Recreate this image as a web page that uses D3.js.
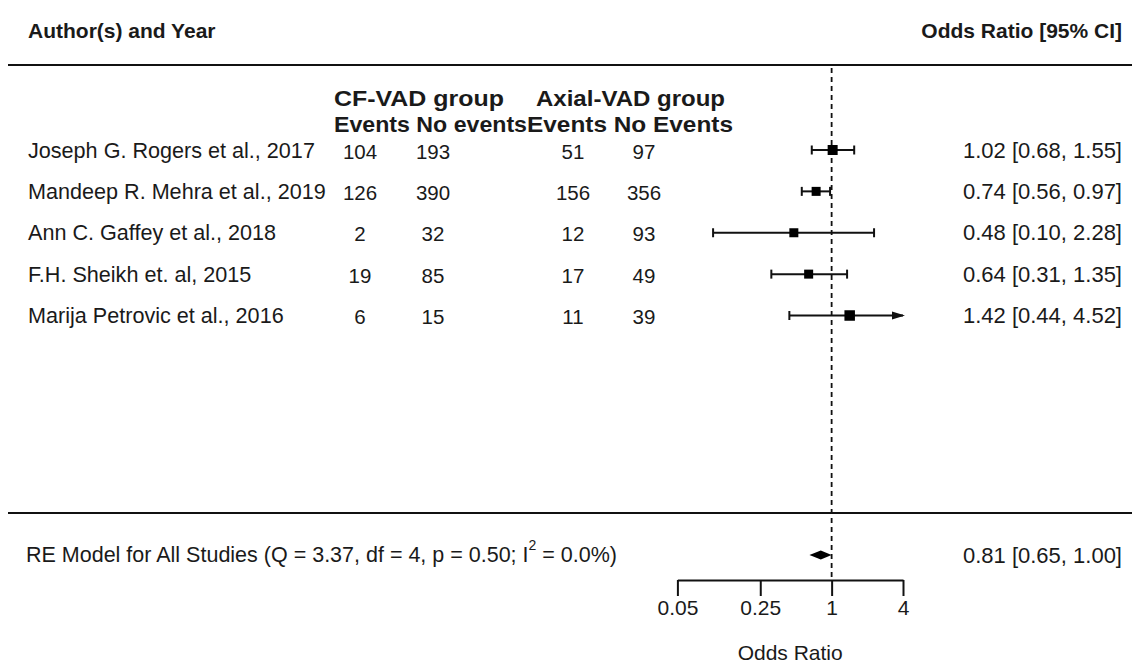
<!DOCTYPE html>
<html>
<head>
<meta charset="utf-8">
<script src="https://cdn.jsdelivr.net/npm/d3@7"></script>
<style>
  html, body { margin: 0; padding: 0; background: #fff; }
  svg text { font-family: "Liberation Sans", Arial, sans-serif; fill: #1a1a1a; }
</style>
</head>
<body>
<svg id="chart" width="1132" height="665"></svg>
<script>
// Study-level data (odds ratios with 95% CI)
const studies = [
  "Joseph G. Rogers et al., 2017",
  "Mandeep R. Mehra et al., 2019",
  "Ann C. Gaffey et al., 2018",
  "F.H. Sheikh et. al, 2015",
  "Marija Petrovic et al., 2016"
];
const cfEvents    = [104, 126, 2, 19, 6];
const cfNoEvents  = [193, 390, 32, 85, 15];
const axEvents    = [51, 156, 12, 17, 11];
const axNoEvents  = [97, 356, 93, 49, 39];
const orEst  = [1.02, 0.74, 0.48, 0.64, 1.42];
const ciLow  = [0.68, 0.56, 0.10, 0.31, 0.44];
const ciHigh = [1.55, 0.97, 2.28, 1.35, 4.52];

// Random-effects summary: estimate, lower, upper
const pooledOR = [0.81, 0.65, 1.00];
const hetQ = 3.37, hetDf = 4, hetP = 0.50, hetI2 = 0.0;

const axisTicks = [0.05, 0.25, 1, 4];
const axisTitle = "Odds Ratio";

// ---- layout ----
const svg = d3.select("#chart");
const FS = 21.6;

const x = d3.scaleLog().domain([0.05, 4]).range([677.4, 903]);
// row index: 5 = first study ... 1 = last study
const y = d3.scaleLinear().domain([5, 1]).range([150, 315.5]);

const nRows = studies.length;
const rowIdx = d3.range(nRows).map(i => nRows - i);
const fmt = d3.format(".2f");

// marker sizes (px) for each study square
const sq = [10, 9, 9, 9, 10.5];

const topRuleY = 65, sepRuleY = 513, ySum = 555, axisY = 580;

// horizontal rules
svg.selectAll("line.rule").data([topRuleY, sepRuleY]).join("line")
  .attr("class", "rule")
  .attr("x1", 8).attr("x2", 1132)
  .attr("y1", d => d).attr("y2", d => d)
  .attr("stroke", "#111").attr("stroke-width", 2);

// headings
svg.append("text").attr("x", 28).attr("y", 30)
  .attr("dominant-baseline", "central")
  .attr("font-weight", "bold").attr("font-size", 21)
  .text("Author(s) and Year");
svg.append("text").attr("x", 1122).attr("y", 30)
  .attr("dominant-baseline", "central").attr("text-anchor", "end")
  .attr("font-weight", "bold").attr("font-size", 21)
  .text("Odds Ratio [95% CI]");

// group headings
const colX = [360, 433, 573, 644];
const HFS = 21.5;
const groupHeads = [
  { t: "CF-VAD group",     x: 334, y: 99,  w: 170 },
  { t: "Axial-VAD group",  x: 536, y: 99,  w: 189 },
  { t: "Events No events", x: 334, y: 125, w: 193 },
  { t: "Events No Events", x: 527, y: 125, w: 206 }
];
svg.selectAll("text.ghead").data(groupHeads).join("text")
  .attr("class", "ghead")
  .attr("x", d => d.x).attr("y", d => d.y)
  .attr("dominant-baseline", "central")
  .attr("font-weight", "bold").attr("font-size", HFS)
  .attr("textLength", d => d.w).attr("lengthAdjust", "spacingAndGlyphs")
  .text(d => d.t);

// study labels and counts
const g = svg.append("g");
g.selectAll("text.study").data(studies).join("text")
  .attr("class", "study")
  .attr("x", 28).attr("y", (d, i) => y(rowIdx[i]))
  .attr("dominant-baseline", "central").attr("font-size", FS)
  .text(d => d);

const countCols = [cfEvents, cfNoEvents, axEvents, axNoEvents];
countCols.forEach((col, c) => {
  g.selectAll("text.cnt" + c).data(col).join("text")
    .attr("class", "cnt" + c)
    .attr("x", colX[c]).attr("y", (d, i) => y(rowIdx[i]) + 1)
    .attr("dominant-baseline", "central").attr("text-anchor", "middle")
    .attr("font-size", 20.5)
    .text(d => d);
});

// estimate + CI text
g.selectAll("text.ci").data(orEst).join("text")
  .attr("class", "ci")
  .attr("x", 1122).attr("y", (d, i) => y(rowIdx[i]))
  .attr("dominant-baseline", "central").attr("text-anchor", "end")
  .attr("font-size", 22)
  .text((d, i) => `${fmt(d)} [${fmt(ciLow[i])}, ${fmt(ciHigh[i])}]`);

// reference line at OR = 1
svg.append("line")
  .attr("x1", x(1)).attr("x2", x(1))
  .attr("y1", topRuleY + 3).attr("y2", axisY)
  .attr("stroke", "#111").attr("stroke-width", 1.8)
  .attr("stroke-dasharray", "5,4");

// confidence intervals
const xMax = x.domain()[1];
const marks = svg.append("g");
orEst.forEach((est, i) => {
  const yy = y(rowIdx[i]);
  const lo = Math.max(ciLow[i], x.domain()[0]);
  const hi = Math.min(ciHigh[i], xMax);
  marks.append("line")
    .attr("x1", x(lo)).attr("x2", x(hi))
    .attr("y1", yy).attr("y2", yy)
    .attr("stroke", "#111").attr("stroke-width", 2);
  marks.append("line")
    .attr("x1", x(lo)).attr("x2", x(lo))
    .attr("y1", yy - 4.5).attr("y2", yy + 4.5)
    .attr("stroke", "#111").attr("stroke-width", 2);
  if (ciHigh[i] > xMax) {
    // truncated interval: arrow at the axis limit
    const tip = x(xMax) + 2;
    marks.append("path")
      .attr("d", `M${tip - 13},${yy - 4}L${tip},${yy}L${tip - 13},${yy + 4}Z`)
      .attr("fill", "#111");
  } else {
    marks.append("line")
      .attr("x1", x(hi)).attr("x2", x(hi))
      .attr("y1", yy - 4.5).attr("y2", yy + 4.5)
      .attr("stroke", "#111").attr("stroke-width", 2);
  }
  marks.append("rect")
    .attr("x", x(est) - sq[i] / 2).attr("y", yy - sq[i] / 2)
    .attr("width", sq[i]).attr("height", sq[i])
    .attr("fill", "#000");
});

// summary row
const sumLabel = svg.append("text").attr("x", 26).attr("y", ySum)
  .attr("dominant-baseline", "central").attr("font-size", FS - 0.1);
sumLabel.append("tspan")
  .text(`RE Model for All Studies (Q = ${fmt(hetQ)}, df = ${hetDf}, p = ${fmt(hetP)}; I`);
sumLabel.append("tspan").attr("font-size", FS * 0.65).attr("dy", -10).text("2");
sumLabel.append("tspan").attr("dy", 10).text(` = ${d3.format(".1f")(hetI2)}%)`);

svg.append("polygon")
  .attr("points", [
    [x(pooledOR[1]), ySum], [x(pooledOR[0]), ySum - 4.5],
    [x(pooledOR[2]), ySum], [x(pooledOR[0]), ySum + 4.5]
  ].map(p => p.join(",")).join(" "))
  .attr("fill", "#000");

svg.append("text").attr("x", 1122).attr("y", ySum)
  .attr("dominant-baseline", "central").attr("text-anchor", "end")
  .attr("font-size", 22)
  .text(`${fmt(pooledOR[0])} [${fmt(pooledOR[1])}, ${fmt(pooledOR[2])}]`);

// x axis
const axis = d3.axisBottom(x)
  .tickValues(axisTicks)
  .tickFormat(d => String(d))
  .tickSize(16).tickSizeOuter(0).tickPadding(4);
const ax = svg.append("g").attr("transform", `translate(0,${axisY})`).call(axis);
ax.select(".domain").attr("stroke", "#111").attr("stroke-width", 2);
ax.selectAll(".tick line").attr("stroke", "#111").attr("stroke-width", 2);
ax.selectAll(".tick text")
  .attr("font-family", "Liberation Sans, Arial, sans-serif")
  .attr("font-size", 21).attr("fill", "#1a1a1a");

svg.append("text").attr("x", (x.range()[0] + x.range()[1]) / 2).attr("y", 652)
  .attr("dominant-baseline", "central").attr("text-anchor", "middle")
  .attr("font-size", 21)
  .text(axisTitle);
</script>
</body>
</html>
